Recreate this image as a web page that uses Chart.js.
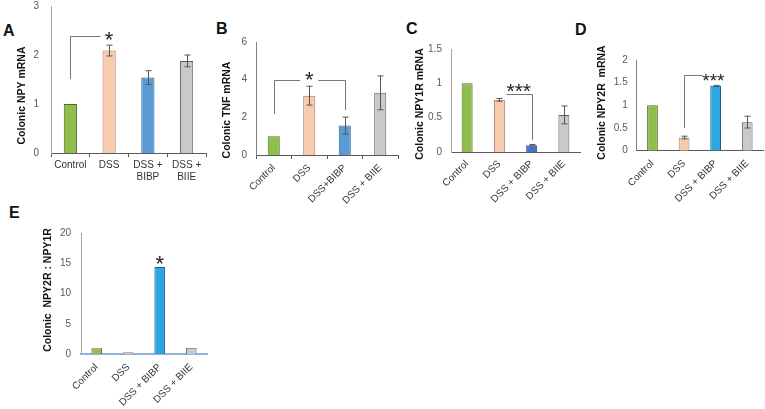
<!DOCTYPE html>
<html>
<head>
<meta charset="utf-8">
<script src="https://cdn.jsdelivr.net/npm/chart.js@4/dist/chart.umd.min.js"></script>
<style>
  body { margin: 0; background: #fff; }
  #wrap { position: relative; width: 765px; height: 409px; overflow: hidden; font-family: "Liberation Sans", Arial, sans-serif; }
  canvas { position: absolute; }
  .tag { position: absolute; font: bold 16px/16px "Liberation Sans", Arial, sans-serif; color: #111; }
</style>
</head>
<body>
<div id="wrap">
  <div class="tag" style="left:3px;top:23px">A</div>
  <div class="tag" style="left:216px;top:21px">B</div>
  <div class="tag" style="left:406px;top:21px">C</div>
  <div class="tag" style="left:575px;top:22px">D</div>
  <div class="tag" style="left:9px;top:205px">E</div>
  <canvas id="chartA" width="215" height="218" style="left:0px;top:-18px"></canvas>
  <canvas id="chartB" width="205" height="192" style="left:200px;top:18px"></canvas>
  <canvas id="chartC" width="190" height="185" style="left:395px;top:25px"></canvas>
  <canvas id="chartD" width="175" height="174" style="left:590px;top:36px"></canvas>
  <canvas id="chartE" width="190" height="200" style="left:30px;top:209px"></canvas>
</div>
<script>
// group labels
const catsA = ['Control', 'DSS', ['DSS +', 'BIBP'], ['DSS +', 'BIIE']];
const catsB = ['Control', 'DSS', 'DSS+BIBP', 'DSS + BIIE'];
const catsCDE = ['Control', 'DSS', 'DSS + BIBP', 'DSS + BIIE'];

// mean relative expression and error
const npyMean = [1, 2.09, 1.54, 1.88];
const npyErr = [0, 0.11, 0.14, 0.12];
const tnfMean = [1, 3.15, 1.56, 3.3];
const tnfErr = [0, 0.5, 0.45, 0.9];
const y1rMean = [1, 0.76, 0.1, 0.54];
const y1rErr = [0, 0.02, 0.01, 0.13];
const y2rMean = [1, 0.29, 1.43, 0.63];
const y2rErr = [0, 0.03, 0.01, 0.13];
const ratioMean = [1, 0.35, 14.4, 1.1];
const ratioErr = [0, 0, 0, 0];

const green = '#8fbe4c', greenLine = '#4f6b25';
const peach = '#f8cbad', peachLine = '#a0786a';
const grey = '#c9c9c9', greyLine = '#5f5f5f';

// error bars, significance brackets and y titles
const extras = {
  id: 'extras',
  afterDatasetsDraw(chart, args, opts) {
    const ctx = chart.ctx;
    const xs = chart.scales.x, ys = chart.scales.y;
    const vals = chart.data.datasets[0].data;
    ctx.save();
    ctx.strokeStyle = '#555';
    ctx.lineWidth = 1;
    (opts.err || []).forEach((e, i) => {
      if (!e) return;
      const x = Math.round(xs.getPixelForValue(i)) + 0.5;
      const t = ys.getPixelForValue(vals[i] + e);
      const b = ys.getPixelForValue(vals[i] - e);
      ctx.beginPath();
      ctx.moveTo(x, t); ctx.lineTo(x, b);
      ctx.moveTo(x - 3, t); ctx.lineTo(x + 3, t);
      ctx.moveTo(x - 3, b); ctx.lineTo(x + 3, b);
      ctx.stroke();
    });
    const s = opts.sig;
    if (s) {
      ctx.strokeStyle = '#777';
      const y = Math.round(ys.getPixelForValue(s.y)) + 0.5;
      const lx = xs.getPixelForValue(s.lx);
      if (s.x1 != null) {
        const x1 = Math.round(xs.getPixelForValue(s.x1)) + 0.5;
        const x2 = Math.round(xs.getPixelForValue(s.x2)) + 0.5;
        ctx.beginPath();
        if (s.gap) {
          ctx.moveTo(x1, y); ctx.lineTo(lx - s.gap, y);
          ctx.moveTo(lx + s.gap, y); ctx.lineTo(x2, y);
        } else {
          ctx.moveTo(x1, y); ctx.lineTo(x2, y);
        }
        if (s.drop1 != null) { ctx.moveTo(x1, y); ctx.lineTo(x1, ys.getPixelForValue(s.drop1)); }
        if (s.drop2 != null) { ctx.moveTo(x2, y); ctx.lineTo(x2, ys.getPixelForValue(s.drop2)); }
        ctx.stroke();
      }
      ctx.fillStyle = '#222';
      ctx.font = s.size + 'px "Liberation Sans", Arial, sans-serif';
      ctx.textAlign = 'center';
      ctx.textBaseline = 'middle';
      ctx.fillText(s.label, lx, y + s.dy + s.size * 0.23);
    }
    const tt = opts.title;
    if (tt) {
      ctx.translate(tt.x, tt.y);
      ctx.rotate(-Math.PI / 2);
      ctx.fillStyle = '#111';
      ctx.font = 'bold 10.5px "Liberation Sans", Arial, sans-serif';
      ctx.textAlign = 'center';
      ctx.textBaseline = 'middle';
      ctx.fillText(tt.text, 0, 0);
    }
    ctx.restore();
  }
};

function makeChart(id, c) {
  return new Chart(document.getElementById(id), {
    type: 'bar',
    data: {
      labels: c.labels,
      datasets: [{
        data: c.values,
        backgroundColor: c.fill,
        borderColor: c.stroke,
        borderWidth: 1,
        borderSkipped: 'bottom',
        barPercentage: 0.34,
        categoryPercentage: 1
      }]
    },
    plugins: [extras],
    options: {
      responsive: false,
      animation: false,
      layout: { padding: { top: 24, right: c.padRight, left: 0, bottom: 0 } },
      plugins: {
        legend: { display: false },
        tooltip: { enabled: false },
        extras: { err: c.err, sig: c.sig, title: c.title }
      },
      scales: {
        x: {
          offset: true,
          grid: { display: c.xTicks, drawOnChartArea: false, drawTicks: c.xTicks, tickLength: 4, color: '#595959', offset: true },
          border: { color: c.xColor || '#595959', width: c.xWidth || 1 },
          ticks: {
            autoSkip: false,
            minRotation: c.rot, maxRotation: c.rot,
            padding: c.xPad,
            color: '#333',
            font: { size: 10, family: '"Liberation Sans", Arial, sans-serif' }
          },
          afterFit: s => { s.height = c.xh; }
        },
        y: {
          min: 0, max: c.max,
          grid: { display: false, drawTicks: false },
          border: { color: c.yColor || '#a6a6a6' },
          ticks: {
            stepSize: c.step,
            padding: c.yPad,
            color: '#595959',
            font: { size: 10, family: '"Liberation Sans", Arial, sans-serif' },
            callback: v => String(v)
          },
          afterFit: s => { s.width = c.yw; }
        }
      }
    }
  });
}

makeChart('chartA', {
  labels: catsA, values: npyMean, err: npyErr,
  fill: [green, peach, '#5b9bd5', grey], stroke: [greenLine, peachLine, '#2e5f8a', greyLine],
  max: 3, step: 1, yw: 51, xh: 47, padRight: 9, rot: 0, xPad: 2, yPad: 12, xTicks: true,
  sig: { x1: 0, x2: 0.76, y: 2.39, drop1: 1.51, label: '*', lx: 1, dy: -1, size: 22 },
  title: { text: 'Colonic NPY mRNA', x: 22, y: 113.5 }
});

makeChart('chartB', {
  labels: catsB, values: tnfMean, err: tnfErr,
  fill: [green, peach, '#5b9bd5', grey], stroke: [greenLine, peachLine, '#2e5f8a', greyLine],
  max: 6, step: 2, yw: 56, xh: 55, padRight: 7, rot: 45, xPad: 3, yPad: 9, xTicks: true,
  yColor: '#808080',
  sig: { x1: 0, x2: 2, y: 4.0, drop1: 2.18, drop2: 2.39, label: '*', lx: 1, gap: 9, dy: -5, size: 22 },
  title: { text: 'Colonic TNF mRNA', x: 27, y: 92 }
});

makeChart('chartC', {
  labels: catsCDE, values: y1rMean, err: y1rErr,
  fill: [green, peach, '#4472c4', grey], stroke: [greenLine, peachLine, '#2f4f8f', greyLine],
  max: 1.5, step: 0.5, yw: 56, xh: 58, padRight: 5, rot: 45, xPad: 6, yPad: 9, xTicks: false,
  sig: { x1: 1.2, x2: 2, y: 0.85, drop2: 0.175, label: '***', lx: 1.6, dy: -7, size: 21 },
  title: { text: 'Colonic NPY1R mRNA', x: 25, y: 79 }
});

makeChart('chartD', {
  labels: catsCDE, values: y2rMean, err: y2rErr,
  fill: [green, peach, '#2ea7e0', grey], stroke: [greenLine, peachLine, '#1c5f80', greyLine],
  max: 2, step: 0.5, yw: 46.7, xh: 59.3, padRight: 2, rot: 45, xPad: 7, yPad: 9, xTicks: false,
  yColor: '#7f7f7f',
  sig: { x1: 1, x2: 1.56, y: 1.66, drop1: 0.5, label: '***', lx: 1.93, dy: 2, size: 19 },
  title: { text: 'Colonic NPY2R  mRNA', x: 12, y: 66.5 }
});

makeChart('chartE', {
  labels: catsCDE, values: ratioMean, err: ratioErr,
  fill: [green, peach, '#2ea7e0', grey], stroke: [greenLine, peachLine, '#1c5f80', greyLine],
  max: 20, step: 5, yw: 51, xh: 54.7, padRight: 13, rot: 45, xPad: 7, yPad: 10, xTicks: false,
  xColor: '#8eb4e3', xWidth: 2,
  sig: { x1: null, y: 15.6, label: '*', lx: 2, dy: -1, size: 22 },
  title: { text: 'Colonic  NPY2R : NPY1R', x: 18, y: 81 }
});
</script>
</body>
</html>
